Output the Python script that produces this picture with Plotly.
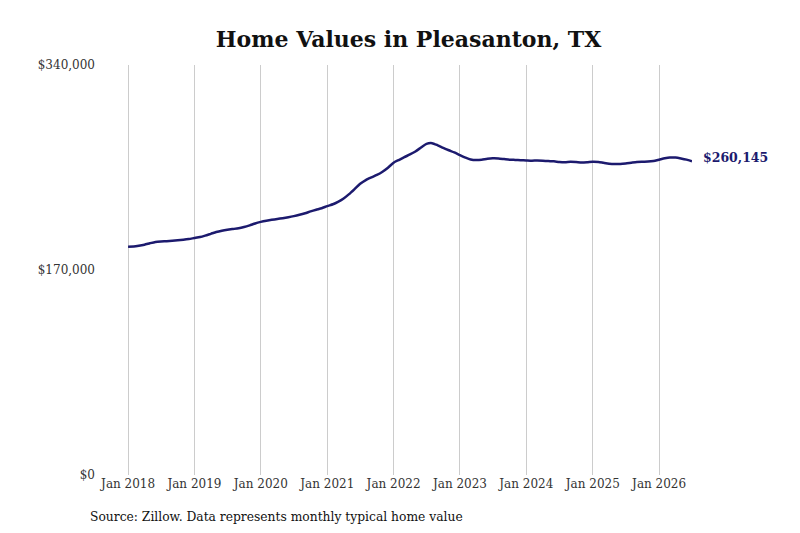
import plotly.graph_objects as go
import pandas as pd

# monthly typical home value, Jan 2018 .. Jul 2026
months = pd.date_range("2018-01-01", "2026-07-01", freq="MS")
values = [
    # 2018
    189300, 189500, 190100, 191000, 192200, 193300, 193700, 193900, 194200, 194600, 195100, 195700,
    # 2019
    196500, 197300, 198500, 200000, 201500, 202600, 203400, 204000, 204600, 205600, 207000, 208600,
    # 2020
    209900, 210900, 211600, 212300, 213000, 213800, 214700, 215800, 217100, 218600, 220000, 221200,
    # 2021
    223000, 224500, 226500, 229300, 232900, 237200, 241500, 244600, 246800, 248800, 251500, 254800,
    # 2022
    259000, 261400, 263600, 265800, 268300, 271600, 274600, 275200, 273400, 271300, 269300, 267500,
    # 2023
    265300, 263200, 261700, 261200, 261500, 262300, 262600, 262500, 262000, 261500, 261300, 261100,
    # 2024
    260900, 260700, 260800, 260600, 260300, 260100, 259600, 259400, 259700, 259500, 259200, 259400,
    # 2025
    259800, 259600, 258900, 258200, 257900, 258000, 258400, 259000, 259600, 259800, 259900, 260400,
    # 2026
    261500, 262600, 263300, 263200, 262500, 261500, 260145,
]

y_ticks = [0, 170000, 340000]
y_tick_labels = ["$0", "$170,000", "$340,000"]
x_ticks = pd.date_range("2018-01-01", "2026-01-01", freq="YS")
x_tick_labels = [f"Jan {d.year}" for d in x_ticks]

line_colour = "#1c1a6e"
serif = "DejaVu Serif, serif"

fig = go.Figure()

fig.add_trace(
    go.Scatter(
        x=months,
        y=values,
        mode="lines",
        line=dict(color=line_colour, width=2.5, shape="spline", smoothing=0.6),
        hoverinfo="skip",
        showlegend=False,
    )
)

# page body adds 8px, so margins are trimmed by that much
fig.update_layout(
    width=800,
    height=533,
    margin=dict(l=117, r=116, t=57, b=66),
    plot_bgcolor="white",
    paper_bgcolor="white",
    font=dict(family=serif, size=12, color="#333333"),
    title=dict(
        text="<b>Home Values in Pleasanton, TX</b>",
        font=dict(family=serif, size=22, color="#111111"),
        x=0.5,
        xref="paper",
        xanchor="center",
        y=1 - 31 / 533,
        yref="container",
        yanchor="middle",
    ),
    showlegend=False,
)

fig.update_xaxes(
    range=["2017-12-15", months[-1]],
    tickvals=x_ticks,
    ticktext=x_tick_labels,
    showgrid=True,
    gridcolor="#cccccc",
    gridwidth=1,
    zeroline=False,
    showline=False,
    ticks="",
    tickfont=dict(size=12, color="#333333"),
)

fig.update_yaxes(
    range=[0, 340000],
    tickvals=y_ticks,
    ticktext=y_tick_labels,
    showgrid=False,
    zeroline=False,
    showline=False,
    ticks="",
    ticklabelstandoff=29,
    tickfont=dict(size=12, color="#333333"),
)

fig.add_annotation(
    x=months[-1],
    y=values[-1],
    text=f"<b>${values[-1]:,}</b>",
    showarrow=False,
    xanchor="left",
    yanchor="middle",
    xshift=9,
    yshift=4,
    font=dict(family=serif, size=12.5, color=line_colour),
)

fig.add_annotation(
    xref="paper",
    yref="paper",
    x=(88 - 125) / 567,
    y=(475 - 517) / 410,
    text="Source: Zillow. Data represents monthly typical home value",
    showarrow=False,
    xanchor="left",
    yanchor="middle",
    font=dict(family=serif, size=12.3, color="#111111"),
)

fig.write_html("out.html")
